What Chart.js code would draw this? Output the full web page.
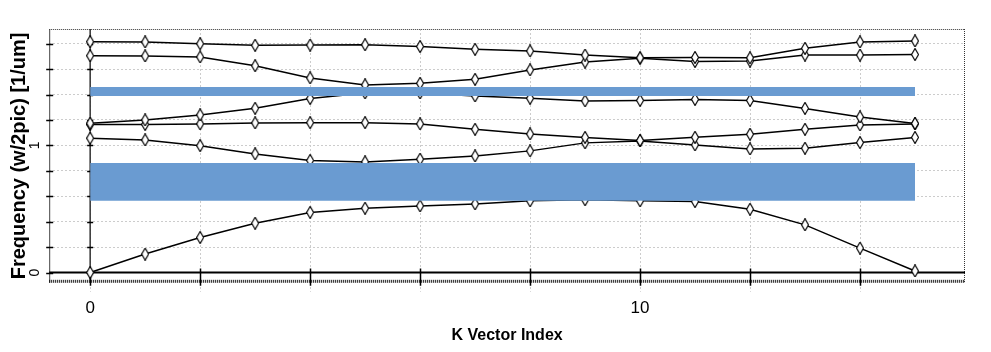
<!DOCTYPE html>
<html><head><meta charset="utf-8">
<script src="https://cdn.jsdelivr.net/npm/chart.js@4/dist/chart.umd.min.js"></script>
<style>html,body{margin:0;padding:0;background:#fff}#wrap{width:991px;height:352px;position:relative}</style>
</head><body><div id="wrap"><canvas id="c"></canvas></div>
<script>
// ---- data ----
const kIndex = [0,1,2,3,4,5,6,7,8,9,10,11,12,13,14,15];
const mode1 = [1.816,1.814,1.800,1.788,1.790,1.792,1.778,1.756,1.743,1.711,1.689,1.692,1.689,1.764,1.814,1.822];
const mode2 = [1.706,1.704,1.696,1.627,1.531,1.476,1.489,1.520,1.594,1.656,1.686,1.660,1.664,1.711,1.711,1.715];
const mode3 = [1.175,1.200,1.240,1.292,1.369,1.413,1.413,1.389,1.371,1.350,1.354,1.362,1.354,1.291,1.224,1.173];
const mode4 = [1.165,1.165,1.169,1.177,1.179,1.179,1.169,1.127,1.090,1.063,1.039,1.064,1.088,1.127,1.161,1.169];
const mode5 = [1.057,1.043,0.998,0.933,0.882,0.870,0.892,0.917,0.957,1.020,1.035,1.004,0.972,0.978,1.022,1.063];
const mode6 = [0.000,0.145,0.275,0.388,0.473,0.506,0.524,0.540,0.564,0.572,0.564,0.558,0.498,0.375,0.192,0.012];
const bandX = [0, 15];
const gapLow  = [1.389, 0.564];
const gapHigh = [1.460, 0.862];
const xTicks = [0,2,4,6,8,10,12,14];
const xTickLabels = {0:'0', 10:'10'};
const yTicks = [0,0.2,0.4,0.6,0.8,1,1.2,1.4,1.6,1.8];
const yTickLabels = {0:'0', 1:'1'};
const xTitle = 'K Vector Index';
const yTitle = 'Frequency (w/2pic) [1/um]';

function diamond(w,h){
  const c=document.createElement('canvas'); c.width=w; c.height=h;
  const g=c.getContext('2d');
  g.beginPath(); g.moveTo(w/2,0.5); g.lineTo(w-0.5,h/2); g.lineTo(w/2,h-0.5); g.lineTo(0.5,h/2); g.closePath();
  g.fillStyle='#fff'; g.fill(); g.lineWidth=1.2; g.strokeStyle='#000'; g.stroke();
  return c;
}
const marker = diamond(8,13);

const modes = [mode1,mode2,mode3,mode4,mode5,mode6];
const datasets = [];
gapLow.forEach((lo,i)=>{
  datasets.push({label:'gap'+i+'hi', data: bandX.map(x=>({x, y:gapHigh[i]})), borderWidth:0, pointRadius:0, fill:'+1', backgroundColor:'#6a9bd1', borderColor:'rgba(0,0,0,0)'});
  datasets.push({label:'gap'+i+'lo', data: bandX.map(x=>({x, y:lo})), borderWidth:0, pointRadius:0, fill:false, borderColor:'rgba(0,0,0,0)'});
});
modes.forEach((m,i)=>{
  datasets.push({label:'mode'+(i+1), data: kIndex.map((k,j)=>({x:k, y:m[j]})), borderColor:'#000', borderWidth:1.5,
    pointStyle: marker, pointRadius:5, fill:false, tension:0});
});

const axesPlugin = {
  id:'axesFrame',
  beforeDatasetsDraw(chart){
    const {ctx, chartArea:a, scales:{x,y}} = chart;
    ctx.save();
    ctx.strokeStyle='#333'; ctx.lineWidth=1; ctx.setLineDash([1,1]);
    ctx.beginPath(); ctx.moveTo(a.left, a.top+0.5); ctx.lineTo(a.right, a.top+0.5);
    ctx.moveTo(a.right-0.5, a.top); ctx.lineTo(a.right-0.5, a.bottom); ctx.stroke();
    ctx.setLineDash([]);
    ctx.strokeStyle='#444'; ctx.beginPath(); ctx.moveTo(a.left+0.5, a.top); ctx.lineTo(a.left+0.5, a.bottom); ctx.stroke();
    ctx.strokeStyle='#111'; ctx.lineWidth=3; ctx.setLineDash([1,1]);
    ctx.beginPath(); ctx.moveTo(a.left, a.bottom-1.5); ctx.lineTo(a.right, a.bottom-1.5); ctx.stroke();
    ctx.setLineDash([]);
    const x0 = x.getPixelForValue(0), y0 = y.getPixelForValue(0);
    ctx.strokeStyle='#333'; ctx.lineWidth=1.5;
    ctx.beginPath(); ctx.moveTo(x0, a.top); ctx.lineTo(x0, a.bottom); ctx.stroke();
    ctx.strokeStyle='#000'; ctx.lineWidth=2;
    ctx.beginPath(); ctx.moveTo(a.left, y0); ctx.lineTo(a.right, y0); ctx.stroke();
    ctx.lineWidth=1.5; ctx.strokeStyle='#000';
    ctx.beginPath();
    yTicks.forEach(v=>{ const p=Math.round(y.getPixelForValue(v))+0.5;
      ctx.moveTo(a.left-3,p); ctx.lineTo(a.left+4,p);
      ctx.moveTo(x0-3,p); ctx.lineTo(x0+3,p); });
    xTicks.forEach(v=>{ const p=Math.round(x.getPixelForValue(v))+0.5;
      ctx.moveTo(p,y0-4); ctx.lineTo(p,a.bottom+3); });
    ctx.stroke();
    ctx.restore();
  }
};

new Chart(document.getElementById('c'), {
  type:'line',
  data:{datasets},
  options:{
    responsive:true, maintainAspectRatio:false, animation:false,
    layout:{padding:{left:10, right:26, top:29, bottom:7}},
    plugins:{legend:{display:false}, tooltip:{enabled:false}},
    scales:{
      x:{type:'linear', min:-0.745, max:15.909,
        afterBuildTicks:s=>{s.ticks=xTicks.map(v=>({value:v}));},
        grid:{color:'#cccccc', tickLength:9, tickColor:'#cccccc', tickBorderDash:[2,2]},
        border:{display:false, dash:[2,2]},
        ticks:{padding:8.5, maxRotation:0, autoSkip:false, color:'#000',
          font:{family:"'Liberation Sans',Arial,sans-serif", size:17, lineHeight:1},
          callback:v=> (xTickLabels[v]!==undefined ? xTickLabels[v] : '')},
        title:{display:true, text:xTitle, color:'#000', padding:0,
          font:{family:"'Liberation Sans',Arial,sans-serif", size:16, weight:'bold', lineHeight:1.2}}
      },
      y:{type:'linear', min:-0.081, max:1.916,
        afterBuildTicks:s=>{s.ticks=yTicks.map(v=>({value:v}));},
        grid:{color:'#cccccc', tickLength:4, tickColor:'rgba(0,0,0,0)'},
        border:{display:false, dash:[2,2]},
        ticks:{padding:6, minRotation:90, maxRotation:90, crossAlign:'center', autoSkip:false, color:'#000',
          font:{family:"'Liberation Sans',Arial,sans-serif", size:14, lineHeight:0.3},
          callback:v=> (yTickLabels[v]!==undefined ? yTickLabels[v] : '')},
        title:{display:true, text:yTitle, color:'#000', padding:0,
          font:{family:"'Liberation Sans',Arial,sans-serif", size:20, weight:'bold', lineHeight:0.95}}
      }
    }
  },
  plugins:[axesPlugin]
});
</script></body></html>
